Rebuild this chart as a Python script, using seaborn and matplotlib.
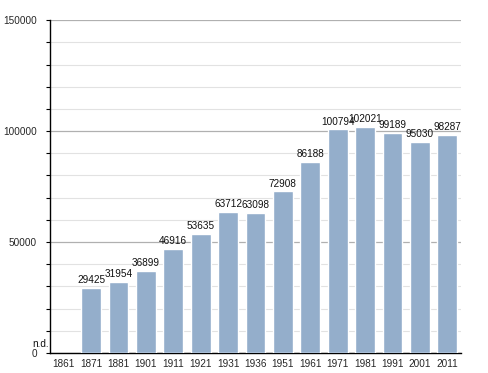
import matplotlib
matplotlib.use("Agg")
import matplotlib.pyplot as plt
from matplotlib.ticker import MultipleLocator, FixedLocator
import seaborn as sns
import pandas as pd
import numpy as np

years = ["1861", "1871", "1881", "1901", "1911", "1921", "1931", "1936",
         "1951", "1961", "1971", "1981", "1991", "2001", "2011"]
population = [np.nan, 29425, 31954, 36899, 46916, 53635, 63712, 63098,
              72908, 86188, 100794, 102021, 99189, 95030, 98287]
y_ticks = [0, 50000, 100000, 150000]
y_tick_labels = ["0", "50000", "100000", "150000"]

df = pd.DataFrame({"year": years, "pop": population})

sns.set_style("white")
plt.rcParams['font.family'] = ['Liberation Sans', 'DejaVu Sans']

fig = plt.figure(figsize=(4.88, 3.73), dpi=100)
ax = fig.add_axes([0.1025, 0.0536, 0.842, 0.8924])

sns.barplot(data=df, x="year", y="pop", color="#94AECB", saturation=1,
            width=0.72, ax=ax, zorder=3)

ax.set_ylim(0, 150000)
ax.set_xlim(-0.5, len(years) - 0.5)
ax.yaxis.set_major_locator(FixedLocator(y_ticks))
ax.yaxis.set_minor_locator(MultipleLocator(10000))
ax.set_yticks(y_ticks, y_tick_labels)
ax.grid(which="major", axis="y", color="#b0b0b0", linewidth=0.9, zorder=0)
ax.grid(which="minor", axis="y", color="#e2e2e2", linewidth=0.8, zorder=0)
ax.set_axisbelow(True)

for s in ["top", "right"]:
    ax.spines[s].set_visible(False)
ax.spines["left"].set_color("black")
ax.spines["bottom"].set_color("black")
ax.spines["left"].set_linewidth(1.0)
ax.spines["bottom"].set_linewidth(1.0)

ax.tick_params(axis="y", which="major", left=True, length=3, width=0.8,
               labelsize=7.2, pad=6.4, color="black")
ax.tick_params(axis="y", which="minor", left=True, length=3, width=0.8, color="black")
ax.tick_params(axis="x", bottom=False, labelsize=7.2, pad=1)
ax.set_xlabel("")
ax.set_ylabel("")

for i, v in enumerate(population):
    if np.isnan(v):
        continue
    ax.text(i, v + 1200, f"{int(v)}", ha="center", va="bottom", fontsize=7.2,
            color="#111111", zorder=5)

ax.text(-0.55, 1800, "n.d.", ha="right", va="bottom", fontsize=7.2, color="#111111")

fig.savefig("out.png", dpi=100)
